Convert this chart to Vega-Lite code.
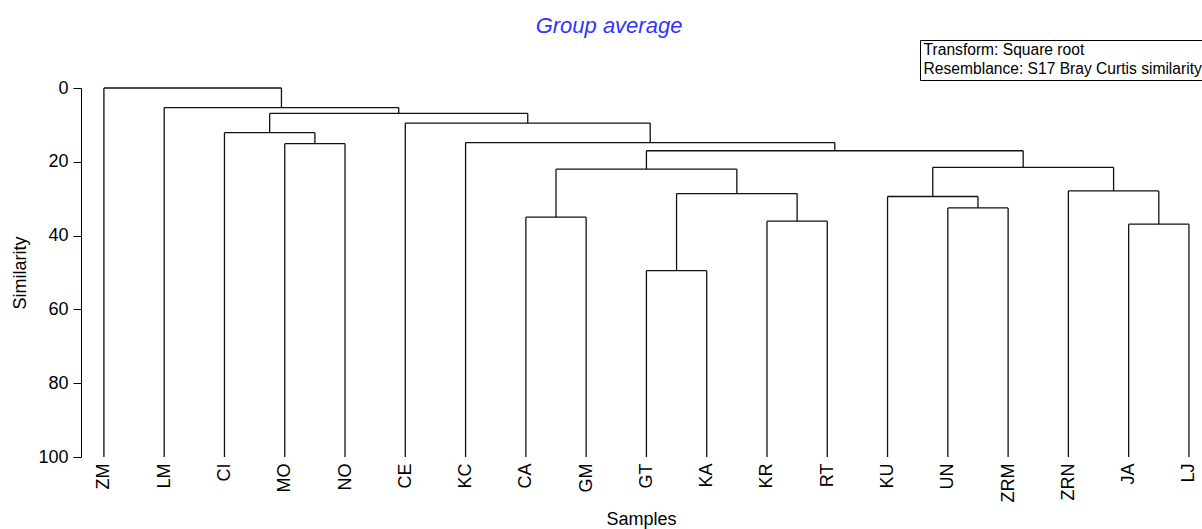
{
  "$schema": "https://vega.github.io/schema/vega-lite/v6.json",
  "width": 1120,
  "height": 369,
  "autosize": {"type": "none"},
  "padding": {"left": 81, "top": 88, "right": 1, "bottom": 72},
  "background": "white",
  "config": {"view": {"stroke": null}, "font": "Liberation Sans"},
  "title": {
    "text": "Group average",
    "font": "Liberation Sans",
    "fontSize": 22,
    "fontStyle": "italic",
    "fontWeight": "normal",
    "color": "#3333ff",
    "anchor": "middle",
    "frame": "group",
    "dx": -32,
    "offset": 2
  },
  "layer": [
    {
      "data": {
        "values": [
          {"x1": 0, "x2": 0, "y1": 100, "y2": 0},
          {"x1": 1, "x2": 1, "y1": 100, "y2": 5.3},
          {"x1": 2, "x2": 2, "y1": 100, "y2": 12.1},
          {"x1": 3, "x2": 3, "y1": 100, "y2": 15.1},
          {"x1": 4, "x2": 4, "y1": 100, "y2": 15.1},
          {"x1": 5, "x2": 5, "y1": 100, "y2": 9.5},
          {"x1": 6, "x2": 6, "y1": 100, "y2": 14.8},
          {"x1": 7, "x2": 7, "y1": 100, "y2": 35.0},
          {"x1": 8, "x2": 8, "y1": 100, "y2": 35.0},
          {"x1": 9, "x2": 9, "y1": 100, "y2": 49.5},
          {"x1": 10, "x2": 10, "y1": 100, "y2": 49.5},
          {"x1": 11, "x2": 11, "y1": 100, "y2": 36.1},
          {"x1": 12, "x2": 12, "y1": 100, "y2": 36.1},
          {"x1": 13, "x2": 13, "y1": 100, "y2": 29.4},
          {"x1": 14, "x2": 14, "y1": 100, "y2": 32.5},
          {"x1": 15, "x2": 15, "y1": 100, "y2": 32.5},
          {"x1": 16, "x2": 16, "y1": 100, "y2": 27.9},
          {"x1": 17, "x2": 17, "y1": 100, "y2": 36.9},
          {"x1": 18, "x2": 18, "y1": 100, "y2": 36.9},
          {"x1": 3.5, "x2": 3.5, "y1": 15.1, "y2": 12.1},
          {"x1": 2.75, "x2": 2.75, "y1": 12.1, "y2": 6.9},
          {"x1": 9.5, "x2": 9.5, "y1": 49.5, "y2": 28.6},
          {"x1": 11.5, "x2": 11.5, "y1": 36.1, "y2": 28.6},
          {"x1": 10.5, "x2": 10.5, "y1": 28.6, "y2": 22.0},
          {"x1": 7.5, "x2": 7.5, "y1": 35.0, "y2": 22.0},
          {"x1": 9, "x2": 9, "y1": 22.0, "y2": 17.0},
          {"x1": 14.5, "x2": 14.5, "y1": 32.5, "y2": 29.4},
          {"x1": 13.75, "x2": 13.75, "y1": 29.4, "y2": 21.5},
          {"x1": 17.5, "x2": 17.5, "y1": 36.9, "y2": 27.9},
          {"x1": 16.75, "x2": 16.75, "y1": 27.9, "y2": 21.5},
          {"x1": 15.25, "x2": 15.25, "y1": 21.5, "y2": 17.0},
          {"x1": 12.125, "x2": 12.125, "y1": 17.0, "y2": 14.8},
          {"x1": 9.0625, "x2": 9.0625, "y1": 14.8, "y2": 9.5},
          {"x1": 7.03125, "x2": 7.03125, "y1": 9.5, "y2": 6.9},
          {"x1": 4.890625, "x2": 4.890625, "y1": 6.9, "y2": 5.3},
          {"x1": 2.9453125, "x2": 2.9453125, "y1": 5.3, "y2": 0},
          {"x1": 3, "x2": 4, "y1": 15.1, "y2": 15.1},
          {"x1": 2, "x2": 3.5, "y1": 12.1, "y2": 12.1},
          {"x1": 9, "x2": 10, "y1": 49.5, "y2": 49.5},
          {"x1": 11, "x2": 12, "y1": 36.1, "y2": 36.1},
          {"x1": 9.5, "x2": 11.5, "y1": 28.6, "y2": 28.6},
          {"x1": 7, "x2": 8, "y1": 35.0, "y2": 35.0},
          {"x1": 7.5, "x2": 10.5, "y1": 22.0, "y2": 22.0},
          {"x1": 14, "x2": 15, "y1": 32.5, "y2": 32.5},
          {"x1": 13, "x2": 14.5, "y1": 29.4, "y2": 29.4},
          {"x1": 17, "x2": 18, "y1": 36.9, "y2": 36.9},
          {"x1": 16, "x2": 17.5, "y1": 27.9, "y2": 27.9},
          {"x1": 13.75, "x2": 16.75, "y1": 21.5, "y2": 21.5},
          {"x1": 9, "x2": 15.25, "y1": 17.0, "y2": 17.0},
          {"x1": 6, "x2": 12.125, "y1": 14.8, "y2": 14.8},
          {"x1": 5, "x2": 9.0625, "y1": 9.5, "y2": 9.5},
          {"x1": 2.75, "x2": 7.03125, "y1": 6.9, "y2": 6.9},
          {"x1": 1, "x2": 4.890625, "y1": 5.3, "y2": 5.3},
          {"x1": 0, "x2": 2.9453125, "y1": 0, "y2": 0}
        ]
      },
      "mark": {"type": "rule", "color": "#111111", "strokeWidth": 1.3},
      "encoding": {
        "x": {
          "field": "x1",
          "type": "quantitative",
          "scale": {"domain": [-0.38, 18.2], "nice": false, "zero": false},
          "axis": {
            "title": "Samples",
            "titleFontSize": 18,
            "titleFontWeight": "normal",
            "titleColor": "black",
            "titlePadding": 9,
            "values": [0, 1, 2, 3, 4, 5, 6, 7, 8, 9, 10, 11, 12, 13, 14, 15, 16, 17, 18],
            "labelExpr": "['ZM','LM','CI','MO','NO','CE','KC','CA','GM','GT','KA','KR','RT','KU','UN','ZRM','ZRN','JA','LJ'][datum.value]",
            "labelAngle": -90,
            "labelFontSize": 18,
            "labelColor": "black",
            "labelPadding": 6,
            "labelOverlap": false,
            "labelFlush": false,
            "ticks": false,
            "domain": false,
            "grid": false
          }
        },
        "x2": {"field": "x2"},
        "y": {
          "field": "y1",
          "type": "quantitative",
          "scale": {"domain": [0, 100], "reverse": true, "nice": false},
          "axis": {
            "title": "Similarity",
            "titleFontSize": 18,
            "titleFontWeight": "normal",
            "titleColor": "black",
            "titlePadding": 8,
            "values": [0, 20, 40, 60, 80, 100],
            "labelFontSize": 18,
            "labelColor": "black",
            "labelPadding": 5,
            "tickSize": 8,
            "tickColor": "black",
            "domainColor": "black",
            "grid": false
          }
        },
        "y2": {"field": "y2"}
      }
    },
    {
      "data": {
        "values": [
          {"info": "Transform: Square root"},
          {"info": "Resemblance: S17 Bray Curtis similarity"}
        ]
      },
      "mark": {"type": "point", "opacity": 0},
      "encoding": {
        "color": {
          "field": "info",
          "type": "nominal",
          "scale": {
            "domain": ["Transform: Square root", "Resemblance: S17 Bray Curtis similarity"],
            "range": ["black", "black"]
          },
          "legend": {
            "title": null,
            "orient": "none",
            "legendX": 839,
            "legendY": -48,
            "strokeColor": "black",
            "fillColor": "white",
            "padding": 2,
            "cornerRadius": 0,
            "labelFont": "Liberation Sans",
            "labelFontSize": 15.6,
            "labelColor": "black",
            "labelLimit": 500,
            "labelOffset": -14,
            "symbolSize": 0.01,
            "symbolStrokeWidth": 0,
            "symbolOpacity": 0,
            "rowPadding": 2
          }
        }
      }
    }
  ]
}
